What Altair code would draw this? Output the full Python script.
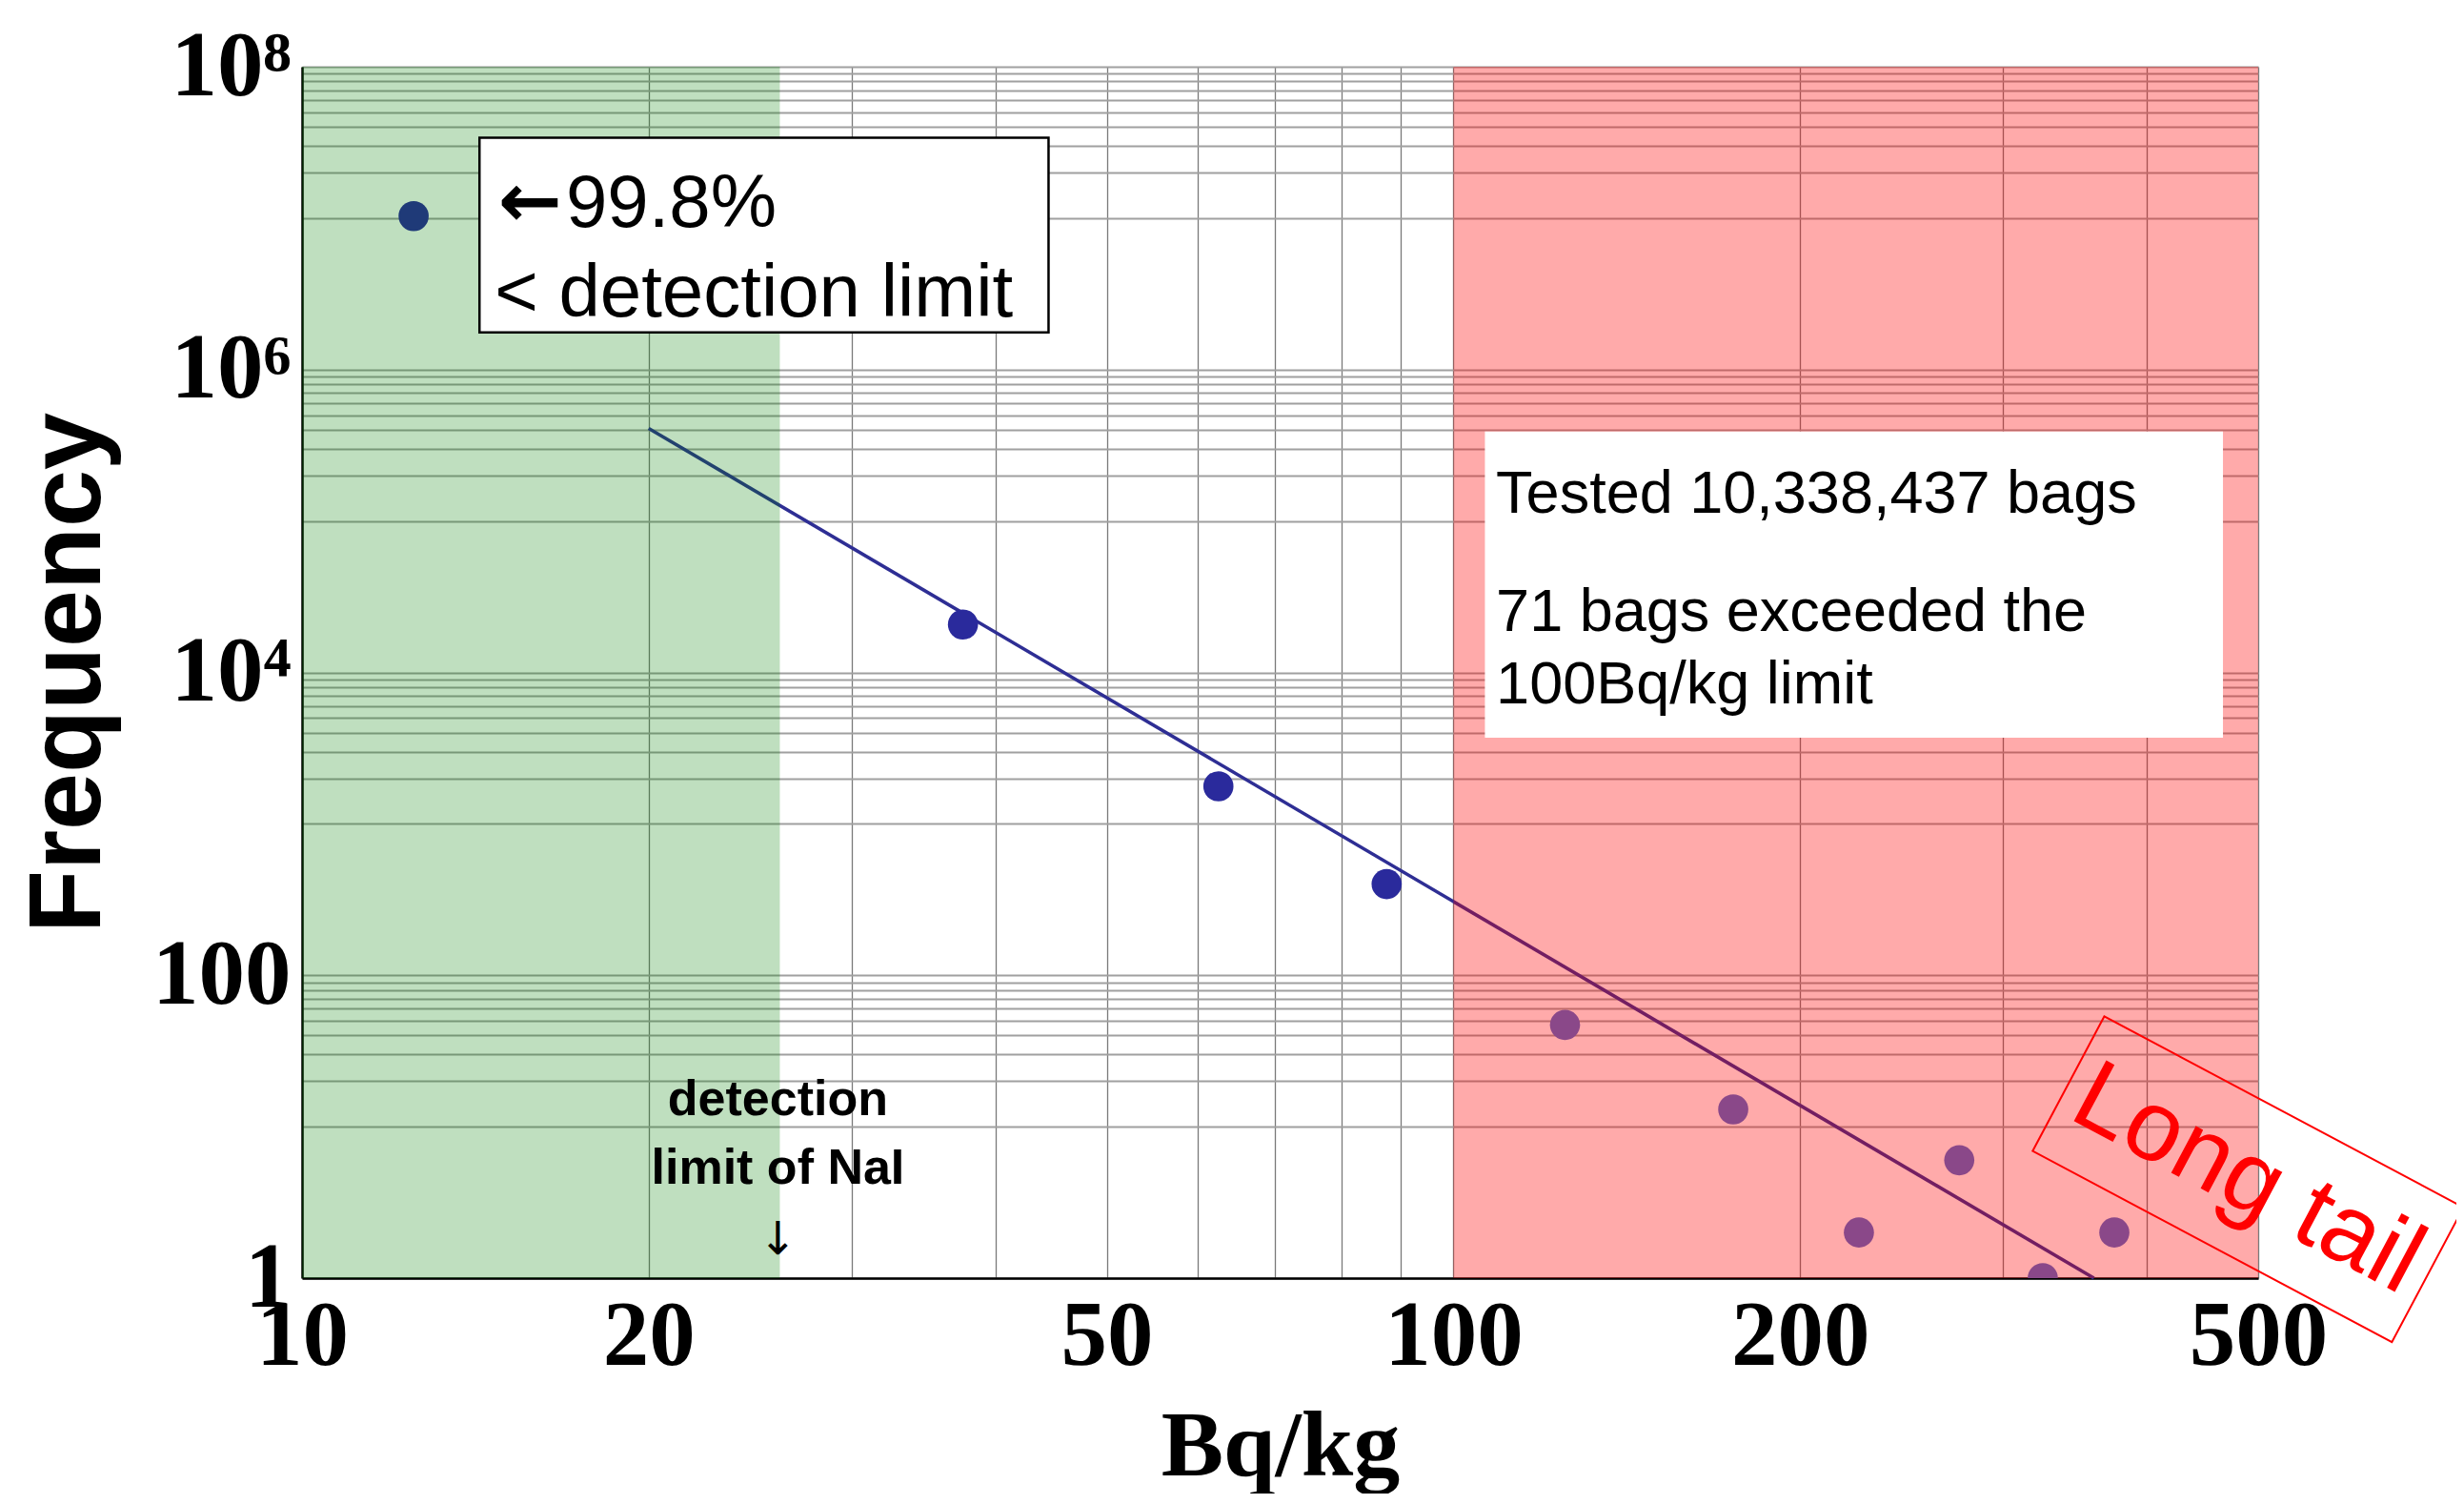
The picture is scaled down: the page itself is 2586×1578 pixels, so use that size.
import altair as alt
import pandas as pd

# ---------------- data ----------------
bq_bins = [12.5, 37.5, 62.5, 87.5, 125, 175, 225, 275, 325, 375]
frequency = [10317000, 20700, 1770, 400, 47, 13, 2, 6, 1, 2]
zone = ["below", "mid", "mid", "mid", "tail", "tail", "tail", "tail", "tail", "tail"]

fit_x = [20, 360]
fit_y = [409000, 1]

x_grid = [10, 20, 30, 40, 50, 60, 70, 80, 90, 100, 200, 300, 400, 500]
y_grid = [1,
          10, 20, 30, 40, 50, 60, 70, 80, 90, 100,
          1000, 2000, 3000, 4000, 5000, 6000, 7000, 8000, 9000, 10000,
          100000, 200000, 300000, 400000, 500000, 600000, 700000, 800000, 900000, 1000000,
          10000000, 20000000, 30000000, 40000000, 50000000, 60000000, 70000000, 80000000, 90000000, 100000000]

x_tick_labels = [10, 20, 50, 100, 200, 500]
y_tick_values = [1, 100, 10000, 1000000, 100000000]
y_tick_labels = ["1", "100", "10⁴", "10⁶", "10⁸"]

green_zone = [10, 26]
red_zone = [100, 500]

# ---------------- tables ----------------
points = pd.DataFrame({"x": bq_bins, "y": frequency, "zone": zone})
fit = pd.DataFrame({"x": fit_x, "y": fit_y})
green_df = pd.DataFrame({"x": [green_zone[0]], "x2": [green_zone[1]]})
red_df = pd.DataFrame({"x": [red_zone[0]], "x2": [red_zone[1]]})

# ---------------- scales / axes ----------------
xscale = alt.Scale(type="log", domain=[10, 500], nice=False)
yscale = alt.Scale(type="log", domain=[1, 100000000], nice=False)

x_label_expr = "indexof([" + ",".join(str(v) for v in x_tick_labels) + "], datum.value) >= 0 ? '' + datum.value : ''"
y_label_expr = ""
for v, lab in zip(y_tick_values, y_tick_labels):
    y_label_expr += f"datum.value == {v} ? '{lab}' : "
y_label_expr += "''"

W, H = 2053, 1271

xaxis = alt.Axis(values=x_grid, labelExpr=x_label_expr, grid=True, gridColor="#7a7a7a",
                 gridWidth=1.3, ticks=False, domain=True, domainColor="black", domainWidth=2.5,
                 labelFont="Liberation Serif", labelFontWeight="bold", labelFontSize=97,
                 labelColor="black", labelPadding=13, labelFlush=False, labelOverlap=False,
                 title="Bq/kg", titleFont="Liberation Serif", titleFontWeight="bold",
                 titleFontSize=98, titleColor="black", titleX=W / 2, titleY=206,
                 titleAlign="center", titleBaseline="alphabetic")
yaxis = alt.Axis(values=y_grid, labelExpr=y_label_expr, grid=True, gridColor="#a0a0a0",
                 gridWidth=1.8, ticks=False, domain=True, domainColor="black", domainWidth=2.5,
                 labelFont="Liberation Serif", labelFontWeight="bold", labelFontSize=97,
                 labelColor="black", labelPadding=12, labelOverlap=False,
                 title="Frequency", titleFont="Liberation Sans", titleFontWeight="bold",
                 titleFontSize=108, titleColor="black", titleAngle=270, titleX=-213,
                 titleY=H / 2, titleAlign="center", titleBaseline="alphabetic")


def X(field="x"):
    return alt.X(f"{field}:Q", scale=xscale, axis=xaxis)


def Y(field="y"):
    return alt.Y(f"{field}:Q", scale=yscale, axis=yaxis)


# fit line (below the translucent zones)
line = alt.Chart(fit).mark_line(color="#2e2e94", strokeWidth=3.6).encode(x=X(), y=Y())

# translucent zones drawn over grid and line
green = alt.Chart(green_df).mark_rect(color="#008000", opacity=0.25).encode(x=X(), x2="x2:Q")
red = alt.Chart(red_df).mark_rect(color="#ff0000", opacity=0.335).encode(x=X(), x2="x2:Q")

# data points
pts = alt.Chart(points).mark_circle(size=1000, opacity=1, clip=True).encode(
    x=X(), y=Y(),
    color=alt.Color("zone:N", scale=alt.Scale(domain=["below", "mid", "tail"],
                                              range=["#1f3a78", "#2a2a9c", "#8a4889"]), legend=None),
)

# annotation boxes
box1 = alt.Chart(pd.DataFrame({"x": [14.26], "x2": [44.5], "y": [1.76e6], "y2": [3.4e7]})).mark_rect(
    fill="white", stroke="black", strokeWidth=2.5).encode(x=X(), x2="x2:Q", y=Y(), y2="y2:Q")
box2 = alt.Chart(pd.DataFrame({"x": [106.5], "x2": [466], "y": [3700], "y2": [3.9e5]})).mark_rect(
    fill="white").encode(x=X(), x2="x2:Q", y=Y(), y2="y2:Q")

left_arrow = alt.Chart(pd.DataFrame({"x": [14.8], "y": [8.7e6], "t": ["←"]})).mark_text(
    align="left", baseline="alphabetic", font="DejaVu Sans", fontWeight="bold", fontSize=80,
    color="black"
).encode(x=X(), y=Y(), text="t:N")

txt1 = alt.Chart(pd.DataFrame({"x": [16.95, 14.7], "y": [8.7e6, 2.23e6],
                               "t": ["99.8%", "< detection limit"]})).mark_text(
    align="left", baseline="alphabetic", font="Liberation Sans", fontSize=78, color="black"
).encode(x=X(), y=Y(), text="t:N")

txt2 = alt.Chart(pd.DataFrame({"x": [108.9, 108.9, 108.9], "y": [1.13e5, 1.88e4, 6270],
                               "t": ["Tested 10,338,437 bags", "71 bags exceeded the",
                                     "100Bq/kg limit"]})).mark_text(
    align="left", baseline="alphabetic", font="Liberation Sans", fontSize=63, color="black"
).encode(x=X(), y=Y(), text="t:N")

txt3 = alt.Chart(pd.DataFrame({"x": [25.9, 25.9], "y": [12.0, 4.19],
                               "t": ["detection", "limit of NaI"]})).mark_text(
    align="center", baseline="alphabetic", font="Liberation Sans", fontWeight="bold",
    fontSize=52, color="black"
).encode(x=X(), y=Y(), text="t:N")

arrow = alt.Chart(pd.DataFrame({"x": [25.9], "y": [1.43], "t": ["↓"]})).mark_text(
    align="center", baseline="alphabetic", font="DejaVu Sans", fontSize=48, color="black"
).encode(x=X(), y=Y(), text="t:N")

# "Long tail" rotated stamp
lt = pd.DataFrame({"x": [490.0], "y": [4.5], "t": ["Long tail"]})
lt_box = alt.Chart(lt).mark_point(
    shape="M-1,-0.375L1,-0.375L1,0.375L-1,0.375Z", filled=False, stroke="#ff0000",
    strokeWidth=2, size=182329, angle=28, opacity=1
).encode(x=X(), y=Y())
lt_text = alt.Chart(lt).mark_text(
    align="center", baseline="middle", font="Liberation Sans", fontSize=105, color="#ff0000",
    angle=28
).encode(x=X(), y=Y(), text="t:N")

chart = alt.layer(line, green, red, pts, box1, box2, left_arrow, txt1, txt2, txt3, arrow,
                  lt_box, lt_text).properties(
    width=W, height=H,
    autosize=alt.AutoSizeParams(type="none"),
    padding={"left": 309, "top": 62, "right": 208, "bottom": 226},
).configure_view(stroke="#333333", strokeWidth=1.5).configure(background="white")

chart.save("out.html", embed_options={"renderer": "svg", "actions": False})
